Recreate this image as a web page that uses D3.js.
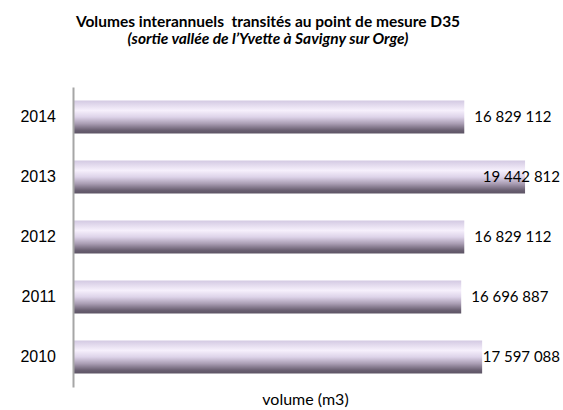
<!DOCTYPE html>
<html>

<head>
    <meta charset="utf-8">
    <style>
        body {
            margin: 0;
            background: #fff;
        }

        svg {
            display: block;
            font-family: Lato, "Open Sans", sans-serif;
        }

        .title {
            font-size: 15.5px;
            font-weight: bold;
            fill: #000;
        }

        .subtitle {
            font-size: 15.5px;
            font-weight: bold;
            font-style: italic;
            fill: #000;
        }

        .y.axis .domain {
            stroke: #a6a6a6;
            stroke-width: 2px;
        }

        .y.axis .tick text {
            font-size: 16px;
            fill: #000;
        }

        .value-label {
            font-size: 15px;
            fill: #000;
        }

        .axis-title {
            font-size: 16px;
            fill: #000;
        }
    </style>
</head>

<body>
    <svg width="563" height="410"></svg>

    <script src="https://d3js.org/d3.v7.min.js"></script>
    <script>
        // data (top to bottom as in the picture)
        let years = ["2014", "2013", "2012", "2011", "2010"];
        let volumes = [16829112, 19442812, 16829112, 16696887, 17597088];
        let xMax = 20000000;

        let width = 563;
        let height = 410;
        let margin = { top: 87, right: 25, bottom: 23, left: 73 };

        let svg = d3.select("svg");

        let data = years.map(function (y, i) {
            return { year: y, volume: volumes[i] };
        });

        // french style thousands: 16 829 112
        let fr = d3.formatLocale({ decimal: ",", thousands: " ", grouping: [3], currency: ["", " €"] });
        let fmt = fr.format(",d");

        let x = d3.scaleLinear()
            .domain([0, xMax])
            .range([margin.left, width - margin.right]);

        let y = d3.scaleBand()
            .domain(years)
            .range([margin.top, height - margin.bottom])
            .paddingInner(0.45)
            .paddingOuter(0.225);

        // gradient for the cylinder look of the bars
        let grad = svg.append("defs")
            .append("linearGradient")
            .attr("id", "barGrad")
            .attr("x1", 0).attr("y1", 0)
            .attr("x2", 0).attr("y2", 1);

        let stops = [
            [0, "#d3c9e2"],
            [0.3, "#f6f0fc"],
            [0.5, "#ddd3e9"],
            [0.7, "#aa9eb4"],
            [0.9, "#6a6072"],
            [1, "#5c5364"]
        ];
        grad.selectAll("stop")
            .data(stops)
            .join("stop")
            .attr("offset", d => d[0])
            .attr("stop-color", d => d[1]);

        // bars
        svg.append("g")
            .selectAll("rect")
            .data(data)
            .join("rect")
            .attr("x", x(0))
            .attr("y", d => y(d.year))
            .attr("width", d => x(d.volume) - x(0))
            .attr("height", y.bandwidth())
            .style("fill", "url(#barGrad)");

        // left axis with the years
        svg.append("g")
            .attr("class", "y axis")
            .attr("transform", `translate(${margin.left},0)`)
            .call(d3.axisLeft(y).tickSize(0).tickPadding(17).tickSizeOuter(0));

        // value labels, kept inside the picture on the right
        svg.append("g")
            .selectAll("text")
            .data(data)
            .join("text")
            .attr("class", "value-label")
            .attr("y", d => y(d.year) + y.bandwidth() / 2)
            .attr("dy", "0.35em")
            .text(d => fmt(d.volume))
            .attr("x", function (d) {
                let w = this.getComputedTextLength();
                return Math.min(x(d.volume) + 10, width - 3 - w);
            });

        // titles
        svg.append("text")
            .attr("class", "title")
            .attr("x", 268)
            .attr("y", 27)
            .attr("text-anchor", "middle")
            .text("Volumes interannuels  transités au point de mesure D35")
            .style("white-space", "pre");

        svg.append("text")
            .attr("class", "subtitle")
            .attr("x", 268)
            .attr("y", 44)
            .attr("text-anchor", "middle")
            .text("(sortie vallée de l’Yvette à Savigny sur Orge)");

        svg.append("text")
            .attr("class", "axis-title")
            .attr("x", (x(0) + x(xMax)) / 2)
            .attr("y", 405)
            .attr("text-anchor", "middle")
            .text("volume (m3)");
    </script>
</body>

</html>
